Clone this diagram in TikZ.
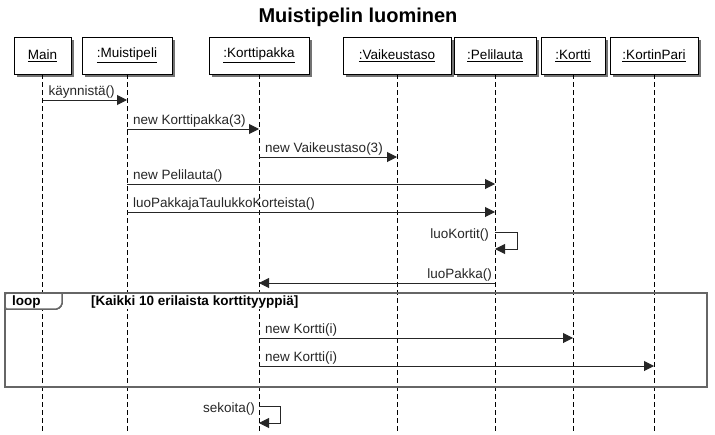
\documentclass[tikz,border=0pt]{standalone}
\usepackage{fontspec}
\setmainfont{Liberation Sans}
\usetikzlibrary{arrows.meta,shadows}
\begin{document}
\begin{tikzpicture}[x=1pt,y=-1pt,
  obj/.style={draw=black, fill=white, line width=0.9pt, minimum height=37pt, inner sep=0pt,
    font=\fontsize{13.5}{16}\selectfont,
    drop shadow={shadow xshift=3pt, shadow yshift=-3pt, fill=black!55, opacity=1}},
  life/.style={draw=black, line width=0.8pt, dash pattern=on 5pt off 3pt},
  msg/.style={draw=black!85, line width=1pt, -{Triangle[length=10pt,width=10pt]}},
  lbl/.style={font=\fontsize{13.5}{16}\selectfont, text=black!85, inner sep=0pt},
  frame/.style={draw=black!60, line width=2.5pt},
  tag/.style={draw=black!60, fill=white, line width=1.5pt, rounded corners=1.5pt},
]
\useasboundingbox (0,0) rectangle (715,434);
\node[font=\fontsize{20}{24}\selectfont\bfseries] (title) at (358,17) {Muistipelin luominen};

\node[obj, minimum width=57pt]  (m)   at (42.5,55.5) {\underline{Main}};
\node[obj, minimum width=90pt]  (mp)  at (127,55.5)  {\underline{:Muistipeli}};
\node[obj, minimum width=100pt] (kp)  at (259,55.5)  {\underline{:Korttipakka}};
\node[obj, minimum width=108pt] (vt)  at (397,55.5)  {\underline{:Vaikeustaso}};
\node[obj, minimum width=82pt]  (pl)  at (495,55.5)  {\underline{:Pelilauta}};
\node[obj, minimum width=64pt]  (ko)  at (573,55.5)  {\underline{:Kortti}};
\node[obj, minimum width=88pt]  (kpr) at (654,55.5)  {\underline{:KortinPari}};

\foreach \n in {m,mp,kp,vt,pl,ko,kpr} {
  \coordinate (\n-end) at (\n.south |- 0,434);
  \draw[life] (\n.south) -- (\n-end);
}

% loop frame
\draw[frame] (5,293) rectangle (707,387);
\path[tag] (5,293) -- (5,309) -- (58,309) -- (62,305) -- (62,293) -- cycle;
\draw[tag] (5,309) -- (58,309) -- (62,305) -- (62,293);
\draw[frame] (5,293) -- (707,293);
\node[lbl, font=\fontsize{13.5}{16}\selectfont\bfseries, text=black, anchor=base west] (looplbl) at (12,305) {loop};
\node[lbl, font=\fontsize{13.5}{16}\selectfont\bfseries, text=black, fill=white, inner sep=1pt, anchor=base west] (guard) at (90,305) {[Kaikki 10 erilaista korttityyppiä]};

% messages
\newcommand{\msgLR}[4]{%
  \draw[msg] (#1 |- 0,#3) -- (#2 |- 0,#3);
  \node[lbl, anchor=base west] at ([xshift=6pt,yshift=5pt]#1 |- 0,#3) {#4};
}
\msgLR{m}{mp}{100}{käynnistä()}
\msgLR{mp}{kp}{129}{new Korttipakka(3)}
\msgLR{kp}{vt}{157}{new Vaikeustaso(3)}
\msgLR{mp}{pl}{184}{new Pelilauta()}
\msgLR{mp}{pl}{212}{luoPakkajaTaulukkoKorteista()}

% self message luoKortit
\draw[msg] (pl |- 0,232) -- ++(22,0) -- ++(0,17) -- (pl |- 0,249);
\node[lbl, anchor=base east] at ([xshift=-6pt,yshift=-6pt]pl |- 0,232) {luoKortit()};

% luoPakka
\draw[msg] (pl |- 0,283) -- (kp |- 0,283);
\node[lbl, anchor=base east] at ([xshift=-3pt,yshift=5pt]pl |- 0,283) {luoPakka()};

\msgLR{kp}{ko}{338}{new Kortti(i)}
\msgLR{kp}{kpr}{366}{new Kortti(i)}

% self message sekoita
\draw[msg] (kp |- 0,406) -- ++(21,0) -- ++(0,17) -- (kp |- 0,423);
\node[lbl, anchor=base east] at ([xshift=-4pt,yshift=-6pt]kp |- 0,406) {sekoita()};
\end{tikzpicture}
\end{document}
